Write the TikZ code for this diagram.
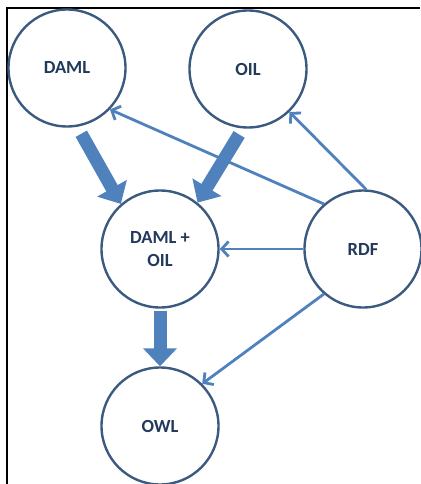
\documentclass[tikz,border=0pt]{standalone}
\usepackage{fontspec}
\setmainfont{Carlito}
\usetikzlibrary{arrows.meta}
\definecolor{ringblue}{HTML}{3A5A80}
\definecolor{textblue}{HTML}{213A5C}
\definecolor{accent}{HTML}{4F81BD}
\begin{document}
\begin{tikzpicture}[x=1pt,y=-1pt,
  concept/.style={circle, draw=ringblue, line width=2.4pt, fill=white,
    minimum size=117pt, inner sep=0pt, align=center,
    font=\fontsize{18.5}{23}\selectfont\bfseries, text=textblue},
  bigarrow/.style={draw=accent, line width=13pt, -{Triangle[width=33pt,length=18pt]}},
  link/.style={draw=accent, line width=2.8pt, -{Straight Barb[length=7pt,width=15pt]}}]
\useasboundingbox (0,0) rectangle (420,484);
% frame (left and top edges)
\draw[black, line width=2pt] (7,484) -- (7,8) -- (420,8);

% concepts
\node[concept] (daml) at (67,68)   {DAML};
\node[concept] (oil)  at (248,69)  {OIL};
\node[concept] (dmo)  at (160,249) {DAML +\\OIL};
\node[concept] (rdf)  at (363,249) {RDF};
\node[concept] (owl)  at (160,426) {OWL};

% merge arrows
\draw[bigarrow, shorten <=8pt] (daml.-80.5) -- (dmo.131);
\draw[bigarrow, shorten <=7pt] (oil.-95) -- (dmo.51);
\draw[bigarrow, shorten <=2pt] (dmo.-90) -- (owl.90);

% RDF influences
\draw[link] (rdf.131) -- (daml.-44);
\draw[link] (rdf.87) -- (oil.-46);
\draw[link] (rdf.west) -- (dmo.east);
\draw[link] (rdf.-131.5) -- (owl.45);
\end{tikzpicture}
\end{document}
